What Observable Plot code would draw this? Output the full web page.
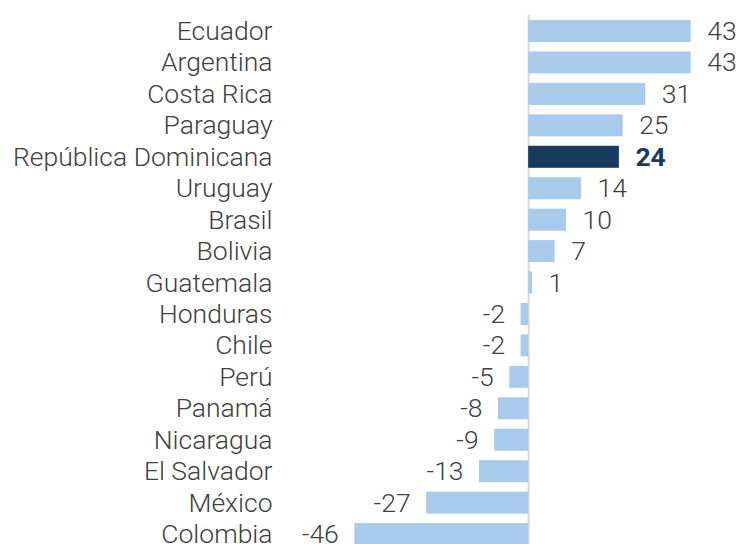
<!DOCTYPE html>
<html><head><meta charset="utf-8">
<script src="https://cdn.jsdelivr.net/npm/d3@7"></script>
<script src="https://cdn.jsdelivr.net/npm/@observablehq/plot@0.6"></script>
<style>body{margin:0;background:#fff} svg{font-family:Roboto}</style>
</head><body><div id="chart"></div>
<script>
const countries = ["Ecuador","Argentina","Costa Rica","Paraguay","República Dominicana","Uruguay","Brasil","Bolivia","Guatemala","Honduras","Chile","Perú","Panamá","Nicaragua","El Salvador","México","Colombia"];
const values = [43,43,31,25,24,14,10,7,1,-2,-2,-5,-8,-9,-13,-27,-46];
const highlight = "República Dominicana";
const data = countries.map((c,i)=>({country:c, value:values[i]}));
const fs = 26.5;
const chart = Plot.plot({
  width:738, height:544, marginLeft:275, marginRight:0, marginTop:15, marginBottom:0,
  style:{fontFamily:"Roboto", fontSize:fs+"px", fontWeight:300, color:"#404040", background:"white"},
  x:{domain:[-46,43], range:[354.3,690.7], axis:null},
  y:{domain:countries, range:[15.3,549.8], paddingInner:0.3, paddingOuter:0.15, round:false, axis:null},
  marks:[
    Plot.ruleX([0],{stroke:"#d9d9d9", strokeWidth:2}),
    Plot.barX(data,{x:"value", y:"country", fill:d=>d.country===highlight?"#173a5e":"#a8cbec"}),
    Plot.axisY({tickSize:0, tickPadding:3, fontSize:fs, fontWeight:300, fill:"#404040", label:null}),
    Plot.text(data.filter(d=>d.value>=0 && d.country!==highlight),{x:"value", y:"country", text:d=>String(d.value), dx:16, textAnchor:"start", fontSize:fs, fontWeight:300, fill:"#404040"}),
    Plot.text(data.filter(d=>d.country===highlight),{x:"value", y:"country", text:d=>String(d.value), dx:16, textAnchor:"start", fontSize:fs, fontWeight:700, fill:"#173a5e"}),
    Plot.text(data.filter(d=>d.value<0),{x:"value", y:"country", text:d=>String(d.value), dx:-16, textAnchor:"end", fontSize:fs, fontWeight:300, fill:"#404040"})
  ]
});
document.getElementById("chart").append(chart);
</script></body></html>
